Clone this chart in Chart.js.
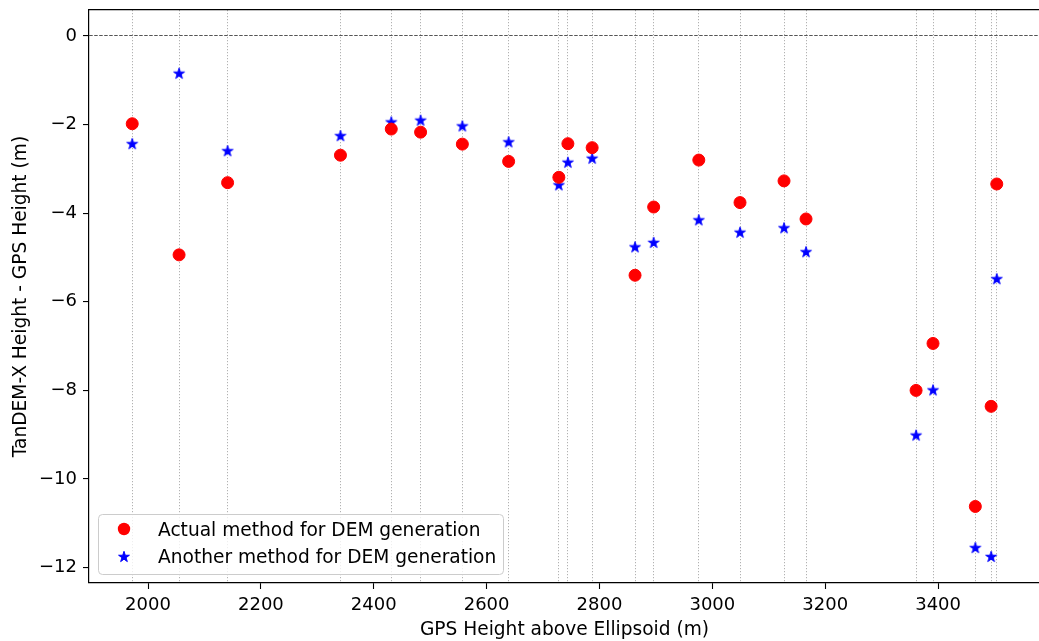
<!DOCTYPE html>
<html>
<head>
<meta charset="utf-8">
<script src="https://cdn.jsdelivr.net/npm/chart.js@4/dist/chart.umd.min.js"></script>
<style>
  html, body { margin: 0; padding: 0; background: #fff; overflow: hidden; }
  #wrap { width: 1047px; height: 641px; position: relative; }
</style>
</head>
<body>
<div id="wrap"><canvas id="chart"></canvas></div>
<script>
// values
var gpsHeight = [1972, 2055, 2141, 2341, 2431, 2483, 2557, 2639, 2728, 2744, 2787,
                 2863, 2896, 2976, 3049, 3127, 3166, 3361, 3391, 3466, 3494, 3504];
var actualMethod = [-1.98, -4.94, -3.31, -2.69, -2.10, -2.17, -2.44, -2.83, -3.19, -2.43, -2.52,
                    -5.40, -3.86, -2.80, -3.76, -3.27, -4.13, -8.00, -6.94, -10.62, -8.36, -3.34];
var anotherMethod = [-2.44, -0.85, -2.60, -2.26, -1.95, -1.91, -2.04, -2.40, -3.37, -2.86, -2.77,
                     -4.77, -4.67, -4.16, -4.44, -4.34, -4.88, -9.02, -8.00, -11.56, -11.76, -5.49];
var seriesLabels = ['Actual method for DEM generation', 'Another method for DEM generation'];
var xTickStep = 200;
var yTickStep = 2;

// axis limits like matplotlib autoscale (5% margins, y includes the zero line)
var xLo = Math.min.apply(null, gpsHeight), xHi = Math.max.apply(null, gpsHeight);
var xMin = xLo - 0.05 * (xHi - xLo), xMax = xHi + 0.05 * (xHi - xLo);
var allY = actualMethod.concat(anotherMethod, [0]);
var yLo = Math.min.apply(null, allY), yHi = Math.max.apply(null, allY);
var yMin = yLo - 0.05 * (yHi - yLo), yMax = yHi + 0.05 * (yHi - yLo);

Chart.defaults.font.family = 'DejaVu Sans';
Chart.defaults.font.size = 18;
Chart.defaults.color = '#000';

var textFont = {family: 'DejaVu Sans', size: 18.6};

// matplotlib style five point star marker
function makeStar(r, color) {
    var c = document.createElement('canvas');
    var s = Math.ceil(r * 2 + 4);
    c.width = s; c.height = s;
    var g = c.getContext('2d');
    var cx = s / 2, cy = s / 2, inner = r * 0.381966;
    g.beginPath();
    for (var i = 0; i < 10; i++) {
        var rr = (i % 2 === 0) ? r : inner;
        var a = -Math.PI / 2 + i * Math.PI / 5;
        var px = cx + rr * Math.cos(a), py = cy + rr * Math.sin(a);
        if (i === 0) g.moveTo(px, py); else g.lineTo(px, py);
    }
    g.closePath();
    g.fillStyle = color;
    g.fill();
    g.lineWidth = 1;
    g.strokeStyle = color;
    g.stroke();
    return c;
}
var starImg = makeStar(5.7, '#0000ff');

function toPoints(xs, ys) {
    var out = [];
    for (var i = 0; i < xs.length; i++) out.push({x: xs[i], y: ys[i]});
    return out;
}

function fmtMinus(v) {
    return v < 0 ? '\u2212' + Math.abs(v) : String(v);
}

// keep the plot box where the reference has it, labels may hang over
function noLabelPadding(s) {
    s.paddingTop = 0;
    s.paddingBottom = 0;
    s.paddingLeft = 0;
    s.paddingRight = 0;
}

// legend drawn inside the axes, lower left
var insideLegend = {
    id: 'insideLegend',
    afterDatasetsDraw: function (chart) {
        var ctx = chart.ctx, area = chart.chartArea;
        var w = 405, h = 60;
        var x = area.left + 9, y = area.bottom - 9 - h;
        ctx.save();
        ctx.beginPath();
        ctx.roundRect(x + 0.5, y + 0.5, w, h, 4);
        ctx.fillStyle = 'rgba(255,255,255,0.8)';
        ctx.fill();
        ctx.lineWidth = 1;
        ctx.strokeStyle = '#cccccc';
        ctx.stroke();

        ctx.fillStyle = '#ff0000';
        ctx.beginPath();
        ctx.arc(x + 26, y + 15, 6.2, 0, Math.PI * 2);
        ctx.fill();
        ctx.drawImage(starImg, x + 26 - starImg.width / 2, y + 43 - starImg.height / 2);

        ctx.fillStyle = '#000';
        ctx.font = textFont.size + 'px "DejaVu Sans"';
        ctx.textBaseline = 'alphabetic';
        ctx.textAlign = 'left';
        ctx.fillText(chart.data.datasets[0].label, x + 60, y + 22);
        ctx.fillText(chart.data.datasets[1].label, x + 60, y + 49);
        ctx.restore();
    }
};

var chart = new Chart(document.getElementById('chart'), {
    type: 'scatter',
    data: {
        datasets: [{
            label: seriesLabels[0],
            data: toPoints(gpsHeight, actualMethod),
            pointStyle: 'circle',
            pointRadius: 6,
            pointBorderWidth: 1,
            backgroundColor: '#ff0000',
            borderColor: '#ff0000'
        }, {
            label: seriesLabels[1],
            data: toPoints(gpsHeight, anotherMethod),
            pointStyle: starImg,
            backgroundColor: '#0000ff',
            borderColor: '#0000ff'
        }]
    },
    options: {
        responsive: true,
        maintainAspectRatio: false,
        animation: false,
        layout: {padding: {left: 0, top: 10, right: 1, bottom: 0}},
        plugins: {
            legend: {display: false},
            tooltip: {enabled: false}
        },
        scales: {
            x: {
                type: 'linear',
                position: 'bottom',
                min: xMin,
                max: xMax,
                afterFit: function (s) { s.height = 58; noLabelPadding(s); },
                ticks: {stepSize: xTickStep, includeBounds: false, padding: 6, maxRotation: 0,
                        callback: function (v) { return String(v); }},
                grid: {drawOnChartArea: false, drawTicks: true, tickLength: 6,
                       tickColor: '#000', tickWidth: 1.1},
                border: {display: true, color: '#000', width: 1.2},
                title: {display: true, text: 'GPS Height above Ellipsoid (m)', font: textFont,
                        padding: {top: 0, bottom: 0}}
            },
            // one dotted guide line per measured GPS height
            xv: {
                type: 'linear',
                position: 'top',
                min: xMin,
                max: xMax,
                afterBuildTicks: function (s) {
                    s.ticks = gpsHeight.map(function (v) { return {value: v}; });
                },
                afterFit: function (s) { s.height = 0; noLabelPadding(s); },
                ticks: {display: false, autoSkip: false},
                grid: {drawOnChartArea: true, drawTicks: false, color: '#a0a0a0',
                       lineWidth: 1},
                border: {display: true, color: '#000', width: 1.2, dash: [1, 2]}
            },
            y: {
                type: 'linear',
                position: 'left',
                min: yMin,
                max: yMax,
                afterFit: function (s) { s.width = 89; noLabelPadding(s); },
                ticks: {stepSize: yTickStep, includeBounds: false, padding: 6,
                        callback: function (v) { return fmtMinus(v); }},
                grid: {
                    drawOnChartArea: true,
                    drawTicks: true,
                    tickLength: 6,
                    tickColor: '#000',
                    tickWidth: 1.1,
                    lineWidth: 1.1,
                    color: function (c) {
                        return (c.tick && c.tick.value === 0) ? '#555555' : 'rgba(0,0,0,0)';
                    }
                },
                border: {display: true, color: '#000', width: 1.2, dash: [3.5, 1.5]},
                title: {display: true, text: 'TanDEM-X Height - GPS Height (m)', font: textFont,
                        padding: {top: 10, bottom: 0}}
            }
        }
    },
    plugins: [insideLegend]
});
</script>
</body>
</html>
